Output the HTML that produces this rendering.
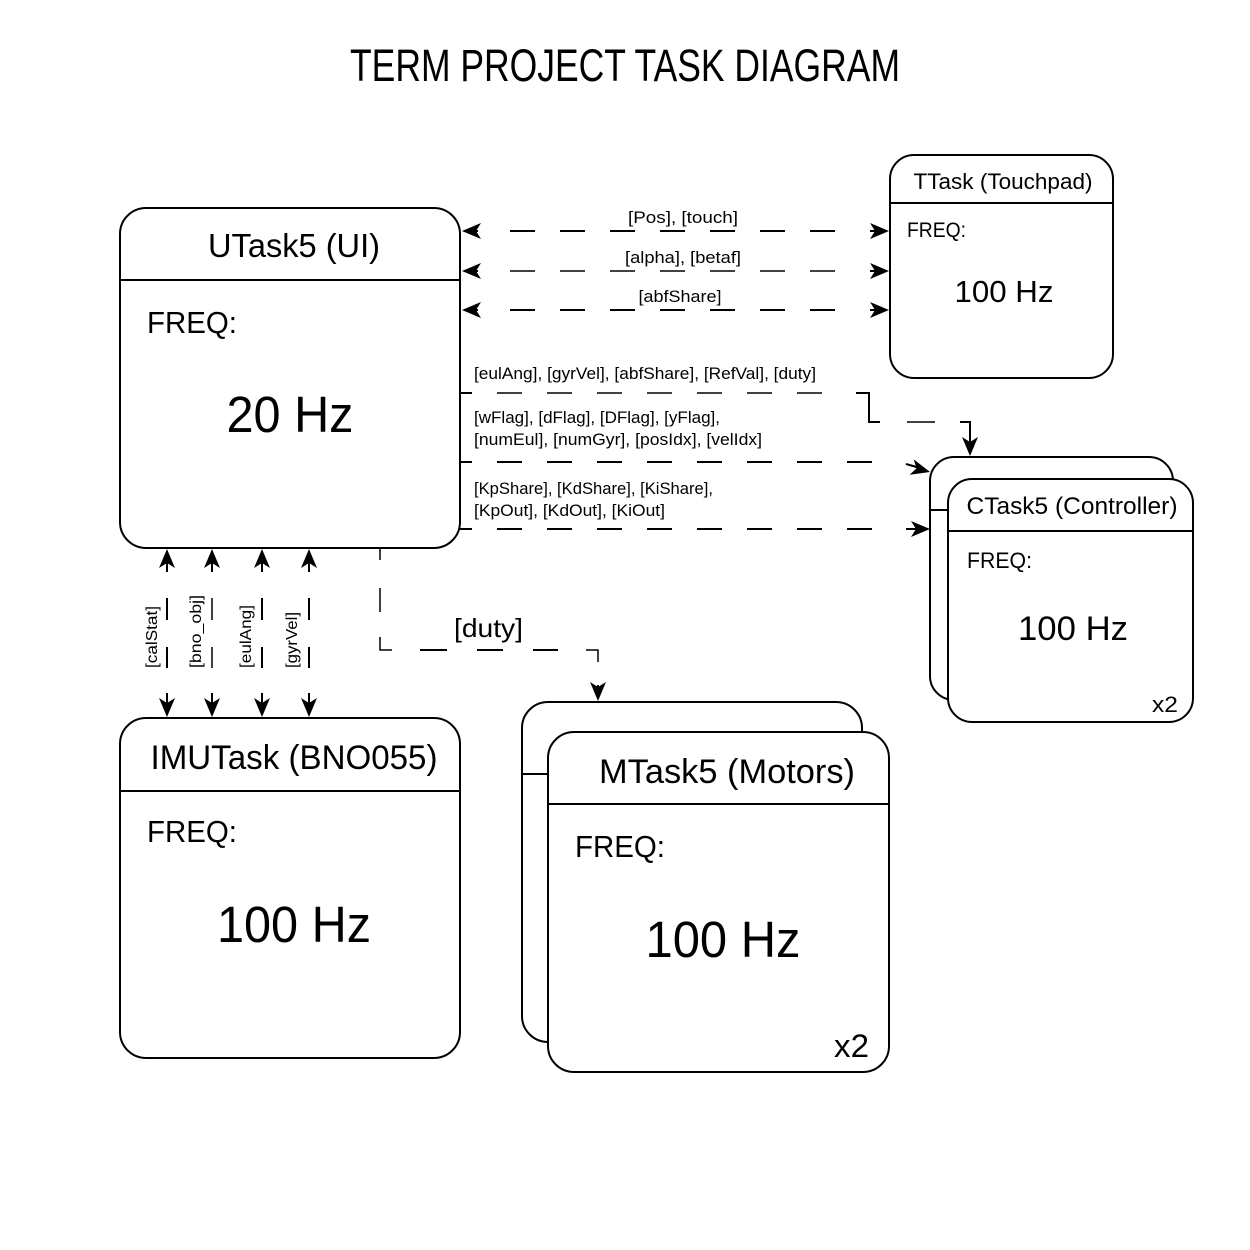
<!DOCTYPE html>
<html><head><meta charset="utf-8"><style>html,body{margin:0;padding:0;background:#fff}svg{display:block}text{font-family:"Liberation Sans",sans-serif;fill:#000}</style></head>
<body>
<svg width="1250" height="1250" viewBox="0 0 1250 1250" xmlns="http://www.w3.org/2000/svg">
<defs>
<path id="a" d="M0,0 L-19,-8 L-14,0 L-19,8 z" fill="#000"/>
</defs>
<rect width="1250" height="1250" fill="#fff"/>
<text x="625" y="81" font-size="45" text-anchor="middle" textLength="550" lengthAdjust="spacingAndGlyphs">TERM PROJECT TASK DIAGRAM</text>

<g fill="#fff" stroke="#000" stroke-width="2">
<rect x="120" y="208" width="340" height="340" rx="26"/>
<line x1="120" y1="280" x2="460" y2="280"/>
<rect x="890" y="155" width="223" height="223" rx="24"/>
<line x1="890" y1="203" x2="1113" y2="203"/>
<rect x="930" y="457" width="243" height="243" rx="24"/>
<line x1="930" y1="510" x2="948" y2="510"/>
<rect x="948" y="479" width="245" height="243" rx="24"/>
<line x1="948" y1="531" x2="1193" y2="531"/>
<rect x="120" y="718" width="340" height="340" rx="26"/>
<line x1="120" y1="791" x2="460" y2="791"/>
<rect x="522" y="702" width="340" height="340" rx="26"/>
<line x1="522" y1="774" x2="548" y2="774"/>
<rect x="548" y="732" width="341" height="340" rx="26"/>
<line x1="548" y1="804" x2="889" y2="804"/>
</g>

<text x="294" y="257" font-size="33" text-anchor="middle" textLength="172" lengthAdjust="spacingAndGlyphs">UTask5 (UI)</text>
<text x="147" y="333" font-size="31" textLength="90" lengthAdjust="spacingAndGlyphs">FREQ:</text>
<text x="290" y="432" font-size="51" text-anchor="middle" textLength="127" lengthAdjust="spacingAndGlyphs">20 Hz</text>

<text x="1003" y="189" font-size="22" text-anchor="middle" textLength="179" lengthAdjust="spacingAndGlyphs">TTask (Touchpad)</text>
<text x="907" y="237" font-size="21" textLength="59" lengthAdjust="spacingAndGlyphs">FREQ:</text>
<text x="1004" y="302" font-size="31" text-anchor="middle" textLength="99" lengthAdjust="spacingAndGlyphs">100 Hz</text>

<text x="1072" y="514" font-size="24" text-anchor="middle" textLength="211" lengthAdjust="spacingAndGlyphs">CTask5 (Controller)</text>
<text x="967" y="568" font-size="22" textLength="65" lengthAdjust="spacingAndGlyphs">FREQ:</text>
<text x="1073" y="640" font-size="34" text-anchor="middle" textLength="110" lengthAdjust="spacingAndGlyphs">100 Hz</text>
<text x="1152" y="712" font-size="22" textLength="26" lengthAdjust="spacingAndGlyphs">x2</text>

<text x="294" y="769" font-size="34" text-anchor="middle" textLength="287" lengthAdjust="spacingAndGlyphs">IMUTask (BNO055)</text>
<text x="147" y="842" font-size="31" textLength="90" lengthAdjust="spacingAndGlyphs">FREQ:</text>
<text x="294" y="942" font-size="51" text-anchor="middle" textLength="154" lengthAdjust="spacingAndGlyphs">100 Hz</text>

<text x="727" y="783" font-size="34" text-anchor="middle" textLength="256" lengthAdjust="spacingAndGlyphs">MTask5 (Motors)</text>
<text x="575" y="857" font-size="31" textLength="90" lengthAdjust="spacingAndGlyphs">FREQ:</text>
<text x="723" y="957" font-size="51" text-anchor="middle" textLength="155" lengthAdjust="spacingAndGlyphs">100 Hz</text>
<text x="834" y="1057" font-size="32" textLength="35" lengthAdjust="spacingAndGlyphs">x2</text>

<g stroke="#000" stroke-width="2" fill="none">
<line x1="470" y1="231" x2="478" y2="231"/>
<line x1="510" y1="231" x2="860" y2="231" stroke-dasharray="25 25"/>
<line x1="870" y1="231" x2="880" y2="231"/>
<line x1="470" y1="271" x2="478" y2="271"/>
<line x1="510" y1="271" x2="860" y2="271" stroke-dasharray="25 25" stroke-width="1.5"/>
<line x1="870" y1="271" x2="880" y2="271"/>
<line x1="470" y1="310" x2="478" y2="310"/>
<line x1="510" y1="310" x2="860" y2="310" stroke-dasharray="25 25"/>
<line x1="870" y1="310" x2="880" y2="310"/>

<line x1="460" y1="393" x2="472" y2="393"/>
<line x1="497" y1="393" x2="845" y2="393" stroke-dasharray="25 25" stroke-width="1.5"/>
<polyline points="856,393 869,393 869,422 880,422"/>
<line x1="907" y1="422" x2="935" y2="422" stroke-width="1.5"/>
<polyline points="960,422 970,422 970,445"/>

<line x1="460" y1="462" x2="472" y2="462"/>
<line x1="497" y1="462" x2="880" y2="462" stroke-dasharray="25 25"/>
<line x1="906" y1="464" x2="920" y2="468"/>

<line x1="460" y1="529" x2="472" y2="529"/>
<line x1="497" y1="529" x2="880" y2="529" stroke-dasharray="25 25"/>
<line x1="906" y1="529" x2="920" y2="529"/>

<line x1="167" y1="572" x2="167" y2="560"/>
<line x1="212" y1="572" x2="212" y2="560"/>
<line x1="262" y1="572" x2="262" y2="560"/>
<line x1="309" y1="572" x2="309" y2="560"/>
<line x1="167" y1="598" x2="167" y2="620"/><line x1="167" y1="647" x2="167" y2="668"/>
<line x1="212" y1="598" x2="212" y2="620" stroke-width="1.5"/><line x1="212" y1="647" x2="212" y2="668" stroke-width="1.5"/>
<line x1="262" y1="598" x2="262" y2="620"/><line x1="262" y1="647" x2="262" y2="668"/>
<line x1="309" y1="598" x2="309" y2="620"/><line x1="309" y1="647" x2="309" y2="668"/>
<line x1="167" y1="693" x2="167" y2="706"/>
<line x1="212" y1="693" x2="212" y2="706"/>
<line x1="262" y1="693" x2="262" y2="706"/>
<line x1="309" y1="693" x2="309" y2="706"/>

<line x1="380" y1="548" x2="380" y2="560" stroke-width="1.5"/>
<line x1="380" y1="588" x2="380" y2="612" stroke-width="1.5"/>
<polyline points="380,637 380,650 392,650" stroke-width="1.5"/>
<line x1="420" y1="650" x2="447" y2="650"/>
<line x1="477" y1="650" x2="503" y2="650"/>
<line x1="533" y1="650" x2="558" y2="650"/>
<polyline points="586,650 598,650 598,662" stroke-width="1.5"/>
<line x1="598" y1="685" x2="598" y2="690"/>
</g>

<!-- arrowheads -->
<use href="#a" transform="translate(462,231) rotate(180)"/>
<use href="#a" transform="translate(462,271) rotate(180)"/>
<use href="#a" transform="translate(462,310) rotate(180)"/>
<use href="#a" transform="translate(889,231)"/>
<use href="#a" transform="translate(889,271)"/>
<use href="#a" transform="translate(889,310)"/>
<use href="#a" transform="translate(970,456) rotate(90)"/>
<use href="#a" transform="translate(930,472) rotate(15)"/>
<use href="#a" transform="translate(930,529)"/>
<use href="#a" transform="translate(167,549) rotate(-90)"/>
<use href="#a" transform="translate(212,549) rotate(-90)"/>
<use href="#a" transform="translate(262,549) rotate(-90)"/>
<use href="#a" transform="translate(309,549) rotate(-90)"/>
<use href="#a" transform="translate(167,717) rotate(90)"/>
<use href="#a" transform="translate(212,717) rotate(90)"/>
<use href="#a" transform="translate(262,717) rotate(90)"/>
<use href="#a" transform="translate(309,717) rotate(90)"/>
<use href="#a" transform="translate(598,701) rotate(90)"/>

<g font-size="17">
<text x="683" y="223" text-anchor="middle" textLength="110" lengthAdjust="spacingAndGlyphs">[Pos], [touch]</text>
<text x="683" y="263" text-anchor="middle" textLength="116" lengthAdjust="spacingAndGlyphs">[alpha], [betaf]</text>
<text x="680" y="302" text-anchor="middle" textLength="83" lengthAdjust="spacingAndGlyphs">[abfShare]</text>
<text x="474" y="379" textLength="342" lengthAdjust="spacingAndGlyphs">[eulAng], [gyrVel], [abfShare], [RefVal], [duty]</text>
<text x="474" y="423" textLength="246" lengthAdjust="spacingAndGlyphs">[wFlag], [dFlag], [DFlag], [yFlag],</text>
<text x="474" y="445" textLength="288" lengthAdjust="spacingAndGlyphs">[numEul], [numGyr], [posIdx], [velIdx]</text>
<text x="474" y="494" textLength="239" lengthAdjust="spacingAndGlyphs">[KpShare], [KdShare], [KiShare],</text>
<text x="474" y="516" textLength="191" lengthAdjust="spacingAndGlyphs">[KpOut], [KdOut], [KiOut]</text>
<text transform="translate(157,668) rotate(-90)" font-size="16" textLength="62" lengthAdjust="spacingAndGlyphs">[calStat]</text>
<text transform="translate(201,668) rotate(-90)" font-size="16" textLength="73" lengthAdjust="spacingAndGlyphs">[bno_obj]</text>
<text transform="translate(251,668) rotate(-90)" font-size="16" textLength="63" lengthAdjust="spacingAndGlyphs">[eulAng]</text>
<text transform="translate(297,668) rotate(-90)" font-size="16" textLength="56" lengthAdjust="spacingAndGlyphs">[gyrVel]</text>
</g>
<text x="454" y="637" font-size="26" textLength="69" lengthAdjust="spacingAndGlyphs">[duty]</text>
</svg>
</body></html>
